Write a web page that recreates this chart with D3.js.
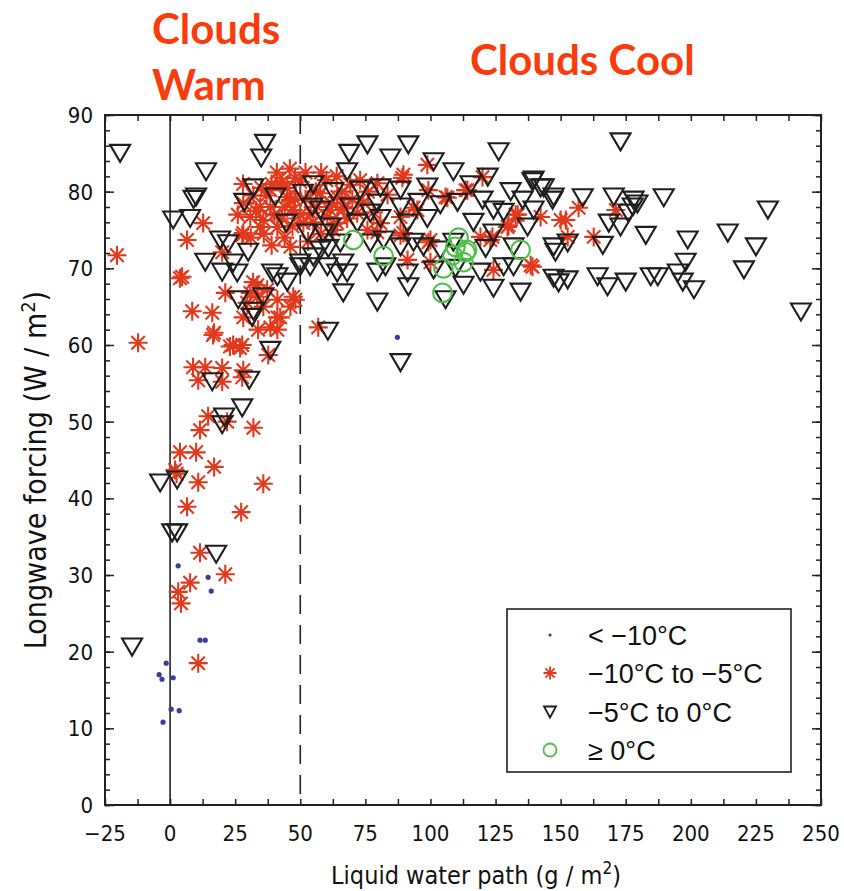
<!DOCTYPE html>
<html>
<head>
<meta charset="utf-8">
<script src="https://cdn.jsdelivr.net/npm/d3@7"></script>
<style>
  body { margin: 0; background: #fff; }
  svg { display: block; }
</style>
</head>
<body>
<svg id="chart" width="844" height="891"></svg>
<script>
// < -10 C
var below10 = [[3.1,31.2],[14.6,29.7],[15.8,27.9],[11.5,21.5],[13.5,21.5],[-1.5,18.5],[-4.2,17],[-3.1,16.4],
  [1.2,16.6],[0.4,12.5],[3.5,12.3],[-2.7,10.8],[87.3,61]];

// -10 C to -5 C
var minus10to5 = [[-20.4,71.7],[12.7,75.9],[6.5,73.7],[3.8,68.7],[8.5,64.4],[16.2,64.2],[16.9,61.6],[-12.3,60.3],
  [21.2,66.8],[20,72.1],[28.1,74.6],[30.8,76.7],[34.6,78],[43.1,81.3],[50,81.3],[38.5,80.2],[46.2,78.9],
  [35.8,76.3],[41.2,75.4],[46.2,72.8],[33.5,67.8],[30.8,66.8],[35.8,65],[41.2,65.9],[41.2,63.6],[46.2,65],
  [48.1,65.9],[41.2,62],[33.8,62],[56.9,62.3],[24.2,60],[27.7,60],[16.5,61.3],[23,59.8],[26.9,59.6],[8.8,57.1],
  [13.5,57.1],[20,57],[10.8,55.4],[20,55.2],[28.1,56.7],[27.7,55.8],[37.7,58.7],[14.6,50.7],[11.5,48.9],
  [21.9,50],[32,49.2],[3.8,46],[10,46],[1.9,43.7],[16.9,44.1],[2.5,43.2],[10.8,42.1],[35.8,41.9],[6.5,38.9],
  [27.3,38.2],[11.5,32.9],[21.2,30.1],[7.7,29],[3.1,27.8],[4.2,26.3],[10.8,18.5],
  [98.8,83.5],[120,81.9],[89.6,82.2],[99.2,80.2],[114.2,80.2],[106.5,79.2],[95,77.6],[88.5,74.3],[100,73.7],
  [91.2,71.1],[100,70.8],[79.6,74.7],[119.2,74.1],[123.8,74.1],[130,75.6],[133.5,77],[142.3,76.7],[124.2,69.8],
  [138.5,70.4],[150,76.3],[132.7,77],[129.6,75.4],[156.9,77.9],[152,76.3],[152.7,74.1],[162.7,74.1],[171.2,77.6],
  [139.2,70.2],[42.3,81.1],[28.1,78.5],[4.6,68.9],[38.5,78],[34.6,75.4],[27.7,74.3],[45,79.3],[47.3,77.6],
  [51.2,75.9],[56.5,78],[60.4,76.7],[62.7,75],[57.7,79.8],[31.9,68.2],[37.3,67.2],[47.3,66.3],[42.3,63.6],
  [29.6,65.5],[33.5,66.3],[28.1,63.6],[38.5,62.3],[89.2,81.8],[79.6,81.1],[69.2,80.9],[64.2,79.3],[74.2,78.6],
  [83.5,79.6],[105.8,79.3],[88.5,76.7],[78.1,77.3],[93.5,77.9],[61.5,77.6],[66.5,78],[71.9,77.2],[80.8,75.9],
  [89.6,74.6],[99.2,73.4],[123,73.7],[64.2,75.9],[75.8,75],[113.5,80.2],
  [45,80.5],[48,81.8],[52,79],[40,77],[43,76.5],[37,79.5],[33,77.5],[50,77],[55,76],[58,74.5],[62,78.5],
  [66,80],[70,79],[73,81.5],[76,80],[68,76.5],[44,74],[39,73],[36,74.5],[31,74],[47,75.5],[53,73.5],[56,80],
  [60,81.5],[64,82],[67,77.8],[35,80.5],[41,82.5],[46,83],[52,82.5],[58,82.5],[28,81],[32,79.5],[26,77],
  [48,79],[54,77.2],[44,78],[39,81]];

// -5 C to 0 C
var minus5to0 = [[-19.2,85],[13.8,82.6],[10,79.3],[9,79],[1.2,76.3],[7.7,76.5],[36.5,86.3],[35,84.4],[32,80.5],
  [28.5,78.6],[40.4,79.3],[13.5,70.8],[19.2,73.7],[22.3,73.2],[20,69.5],[25.8,69.4],[30,72.1],[24.2,70.7],
  [26.2,65.9],[32,64.4],[35.8,66.3],[31.5,63.6],[44.6,75.9],[51,79.8],[54.6,78],[55,80.9],[39.2,69.4],
  [41.2,68.9],[45,68.2],[50,70.2],[53.8,70.2],[58.8,74.6],[60.8,72.6],[60.6,61.8],[38.5,59.3],[30.4,55.4],
  [16.2,55.2],[27.7,51.8],[20.8,50.6],[20,49.6],[-3.8,42],[2.7,42.4],[0.8,35.5],[2.7,35.5],[17.7,32.7],
  [-14.6,20.6],[75.8,86.1],[68.8,85],[91.5,86.1],[84.6,84.4],[101.2,83.9],[126.2,85.2],[68,82.6],[108.8,82.6],
  [122,81.9],[115.4,80.9],[80.8,80.5],[88.5,80.2],[62.7,80],[73,80.2],[98.8,80.6],[139.2,81.3],[130.8,80],
  [142.3,80.5],[147.3,79.3],[135.4,78.9],[120,78.9],[110.4,78.6],[103.8,78.3],[95.4,78.6],[88.5,78],[79.6,78.5],
  [76.9,77.2],[69.2,78],[57.7,77.6],[139.6,77.6],[128.1,77.3],[124.2,77.6],[52.7,74.6],[61.5,75.4],[71.9,75.9],
  [80.8,76.5],[91.2,75.9],[98.8,76.5],[116.5,76],[137.3,75.4],[124.2,74.6],[147.3,72.8],[131.9,72.8],
  [121.2,72.6],[108.8,73.4],[103.8,72.4],[97.3,72.8],[93.5,73.4],[88.5,72.8],[82,73.7],[76.9,73.3],[65.4,73.3],
  [57.7,72.4],[50,70.7],[55,71.5],[60.4,70.2],[66.5,70.7],[64.2,69.4],[68,69.4],[79.6,69.5],[82.7,70.2],
  [91.2,69.4],[101.2,69.8],[109.6,70],[119.2,69.5],[128.1,70.2],[131.9,70.2],[147.3,68.7],[66.5,66.8],
  [79.6,65.6],[91.5,67.6],[105.8,65.9],[112.7,67.8],[124.2,67.4],[134.6,66.9],[88.5,57.7],
  [173,86.5],[158.5,79.2],[170.4,79.3],[178,78.9],[177.7,78],[176,77.2],[179.5,78.4],[189.6,79.2],[146.9,78.9],
  [143.5,80.5],[168.5,75.9],[173,75.4],[182.7,74.3],[166.2,73],[198.8,73.7],[152.7,73.3],[148,72.1],
  [214.2,74.6],[225,72.8],[229.6,77.6],[198,70.8],[220.4,69.8],[149.2,68.1],[152.7,68.5],[164.2,68.9],
  [168,67.6],[175,68.2],[184.6,68.9],[187.3,68.9],[195,69.4],[196.9,68.2],[201.2,67.2],[242.3,64.3],[139.6,81.5]];

// >= 0 C
var above0 = [[70.4,73.7],[82,71.6],[110.8,74],[113.5,72.1],[109.6,72.8],[108.5,71.7],[112.7,70.8],[105,70],
  [104.6,66.8],[134.6,72.4],[114,72.4]];

var xTicks = [-25, 0, 25, 50, 75, 100, 125, 150, 175, 200, 225, 250];
var yTicks = [0, 10, 20, 30, 40, 50, 60, 70, 80, 90];
var legendLabels = ["< \u221210\u00B0C", "\u221210\u00B0C to \u22125\u00B0C", "\u22125\u00B0C to 0\u00B0C", "\u2265 0\u00B0C"];

var svg = d3.select("#chart");
var padL = 105, padR = 821, padT = 115, padB = 805;

var x = d3.scaleLinear().domain([-25, 250]).range([padL, padR]);
var y = d3.scaleLinear().domain([0, 90]).range([padB, padT]);

var tickFont = "'Liberation Sans Narrow', 'Arial Narrow', 'DejaVu Sans Condensed', sans-serif";

/* marker shapes */
function starPath(r) {
  var d = r * 0.7071;
  return "M" + (-r) + ",0L" + r + ",0M0," + (-r) + "L0," + r +
    "M" + (-d) + "," + (-d) + "L" + d + "," + d + "M" + (-d) + "," + d + "L" + d + "," + (-d);
}
function triPath(w, h) {
  return "M" + (-w / 2) + "," + (-h / 2) + "L" + (w / 2) + "," + (-h / 2) + "L0," + (h / 2) + "Z";
}

/* axes: inward ticks on all four sides */
var minorX = d3.range(-25, 251, 12.5);
var minorY = d3.range(0, 91, 2);

svg.append("g").attr("transform", "translate(0," + padB + ")")
  .call(d3.axisTop(x).tickValues(minorX).tickSize(6).tickFormat(""));
svg.append("g").attr("transform", "translate(0," + padT + ")")
  .call(d3.axisBottom(x).tickValues(minorX).tickSize(6).tickFormat(""));
svg.append("g").attr("transform", "translate(" + padL + ",0)")
  .call(d3.axisRight(y).tickValues(minorY).tickSize(5).tickFormat(""));
svg.append("g").attr("transform", "translate(" + padR + ",0)")
  .call(d3.axisLeft(y).tickValues(minorY).tickSize(5).tickFormat(""));
svg.append("g").attr("transform", "translate(" + padL + ",0)")
  .call(d3.axisRight(y).tickValues(yTicks).tickSize(9).tickFormat(""));
svg.append("g").attr("transform", "translate(" + padR + ",0)")
  .call(d3.axisLeft(y).tickValues(yTicks).tickSize(9).tickFormat(""));

svg.selectAll(".domain").remove();
svg.selectAll(".tick line").attr("stroke", "#222").attr("stroke-width", 1.5);

svg.append("rect").attr("x", padL).attr("y", padT)
  .attr("width", padR - padL).attr("height", padB - padT)
  .attr("fill", "none").attr("stroke", "#222").attr("stroke-width", 2);

/* tick labels */
svg.append("g").selectAll("text").data(xTicks).enter().append("text")
  .attr("x", function(d) { return x(d); })
  .attr("y", padB + 36)
  .attr("text-anchor", "middle")
  .attr("font-family", tickFont).attr("font-size", 22).attr("fill", "#111")
  .text(function(d) { return d < 0 ? "\u2212" + Math.abs(d) : d; });

svg.append("g").selectAll("text").data(yTicks).enter().append("text")
  .attr("x", padL - 12)
  .attr("y", function(d) { return y(d) + 8; })
  .attr("text-anchor", "end")
  .attr("font-family", tickFont).attr("font-size", 22).attr("fill", "#111")
  .text(function(d) { return d; });

/* axis titles */
var xt = svg.append("text").attr("x", 476).attr("y", 884).attr("text-anchor", "middle")
  .attr("font-family", tickFont).attr("font-size", 25).attr("fill", "#111");
xt.append("tspan").text("Liquid water path (g / m");
xt.append("tspan").attr("dy", -10).attr("font-size", 17).text("2");
xt.append("tspan").attr("dy", 10).text(")");

var yt = svg.append("text").attr("transform", "translate(46,470) rotate(-90)").attr("text-anchor", "middle")
  .attr("font-family", tickFont).attr("font-size", 30).attr("fill", "#111");
yt.append("tspan").text("Longwave forcing (W / m");
yt.append("tspan").attr("dy", -11).attr("font-size", 20).text("2");
yt.append("tspan").attr("dy", 11).text(")");

/* reference lines */
svg.append("line").attr("x1", x(0)).attr("x2", x(0)).attr("y1", padT).attr("y2", padB)
  .attr("stroke", "#222").attr("stroke-width", 1.6);
svg.append("line").attr("x1", x(50)).attr("x2", x(50)).attr("y1", padT).attr("y2", padB)
  .attr("stroke", "#222").attr("stroke-width", 1.6).attr("stroke-dasharray", "19,11");

/* markers */
svg.append("g").selectAll("circle").data(below10).enter().append("circle")
  .attr("cx", function(d) { return x(d[0]); })
  .attr("cy", function(d) { return y(d[1]); })
  .attr("r", 2.6).attr("fill", "#3c3c9c");

svg.append("g").selectAll("path").data(minus10to5).enter().append("path")
  .attr("transform", function(d) { return "translate(" + x(d[0]) + "," + y(d[1]) + ")"; })
  .attr("d", starPath(9.5))
  .attr("fill", "none").attr("stroke", "#e2391d").attr("stroke-width", 2.1);

svg.append("g").selectAll("path").data(minus5to0).enter().append("path")
  .attr("transform", function(d) { return "translate(" + x(d[0]) + "," + y(d[1]) + ")"; })
  .attr("d", triPath(20, 17))
  .attr("fill", "none").attr("stroke", "#1e1e1e").attr("stroke-width", 2.1).attr("stroke-linejoin", "miter");

svg.append("g").selectAll("circle").data(above0).enter().append("circle")
  .attr("cx", function(d) { return x(d[0]); })
  .attr("cy", function(d) { return y(d[1]); })
  .attr("r", 9.3).attr("fill", "none").attr("stroke", "#4fbf4a").attr("stroke-width", 2.1);

/* legend */
var lg = svg.append("g");
lg.append("rect").attr("x", 507).attr("y", 609).attr("width", 284).attr("height", 163)
  .attr("fill", "#fff").attr("stroke", "#222").attr("stroke-width", 1.6);
var rowY = [635, 673, 712, 750];
lg.append("circle").attr("cx", 550).attr("cy", rowY[0]).attr("r", 1.6).attr("fill", "#3c3c9c");
lg.append("path").attr("transform", "translate(550," + rowY[1] + ")").attr("d", starPath(6.5))
  .attr("fill", "none").attr("stroke", "#e2391d").attr("stroke-width", 1.8);
lg.append("path").attr("transform", "translate(550," + rowY[2] + ")").attr("d", triPath(12, 11))
  .attr("fill", "none").attr("stroke", "#1e1e1e").attr("stroke-width", 1.8);
lg.append("circle").attr("cx", 550).attr("cy", rowY[3]).attr("r", 6.5)
  .attr("fill", "none").attr("stroke", "#4fbf4a").attr("stroke-width", 1.8);
lg.selectAll("text").data(legendLabels).enter().append("text")
  .attr("x", 588).attr("y", function(d, i) { return rowY[i] + 10; })
  .attr("font-family", "'Liberation Sans', Arial, sans-serif").attr("font-size", 27).attr("fill", "#111")
  .text(function(d) { return d; });

/* annotations */
var annFont = "Lato, 'Open Sans', sans-serif";
svg.append("text").attr("x", 152).attr("y", 44).attr("font-family", annFont).attr("font-weight", "bold")
  .attr("font-size", 42).attr("fill", "#fa3c0c").text("Clouds");
svg.append("text").attr("x", 152).attr("y", 100).attr("font-family", annFont).attr("font-weight", "bold")
  .attr("font-size", 42).attr("fill", "#fa3c0c").text("Warm");
svg.append("text").attr("x", 470).attr("y", 75).attr("font-family", annFont).attr("font-weight", "bold")
  .attr("font-size", 42).attr("fill", "#fa3c0c").text("Clouds Cool");
</script>
</body>
</html>
